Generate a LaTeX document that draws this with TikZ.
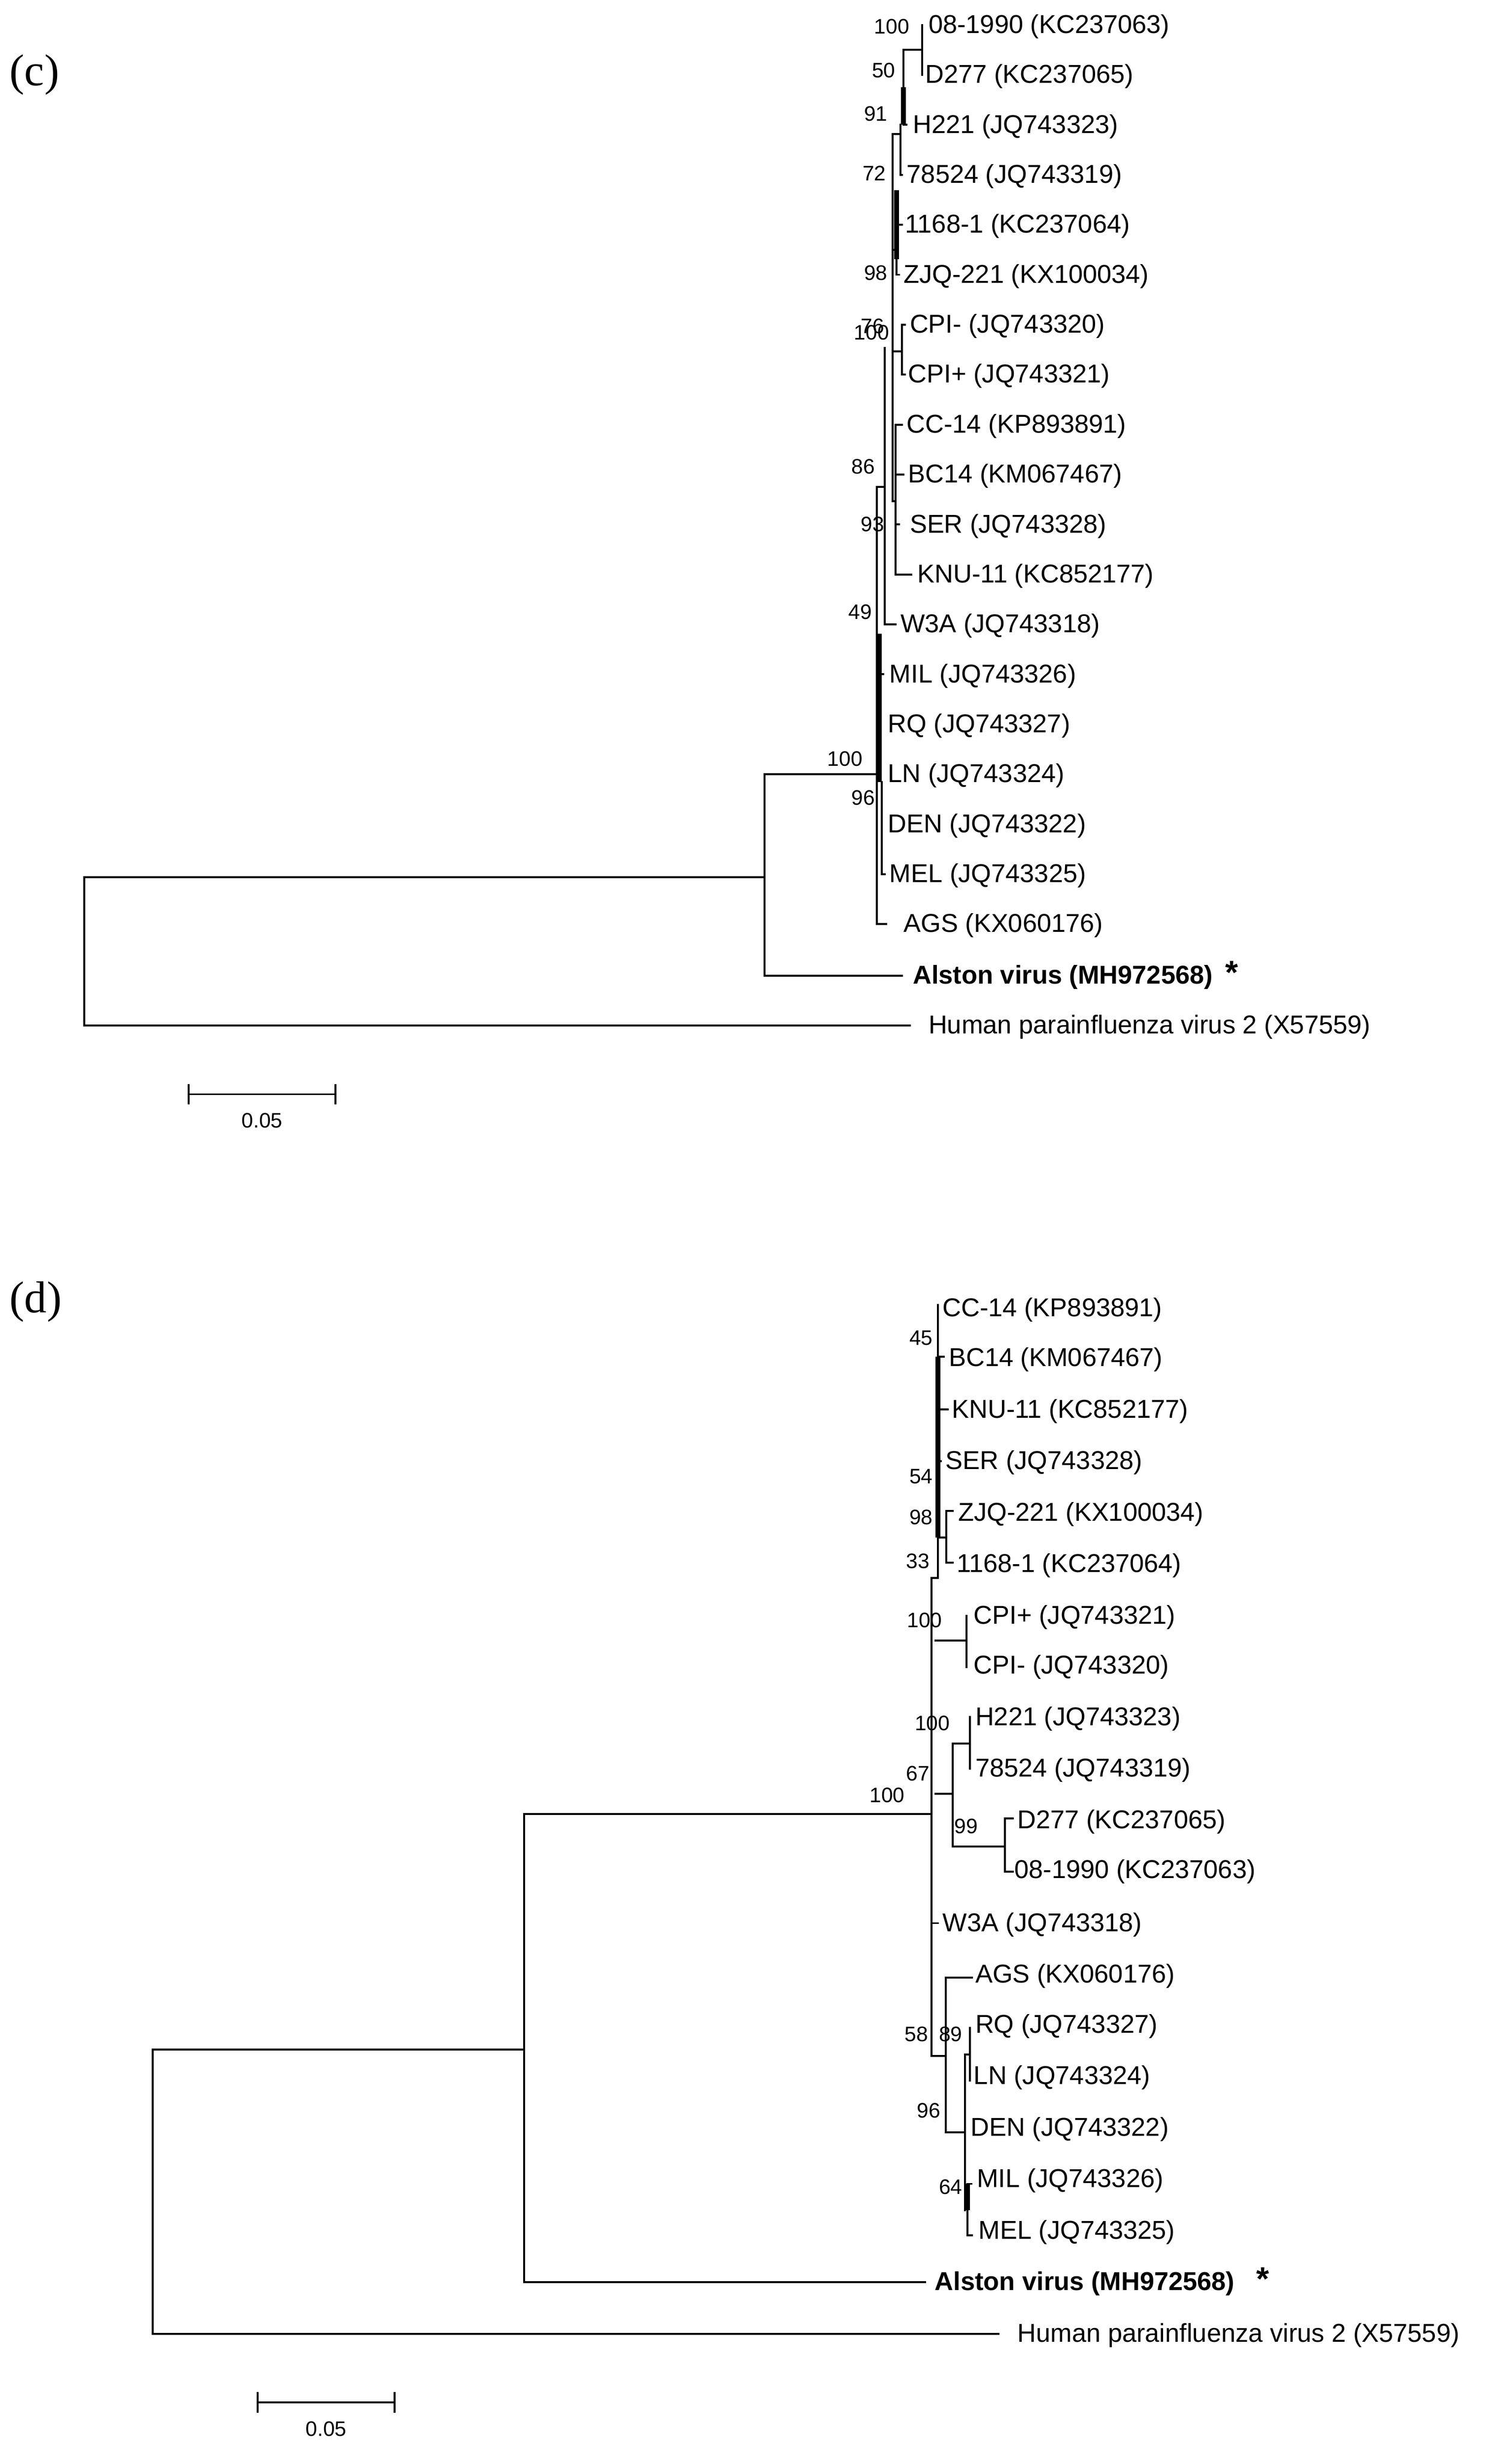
\documentclass[tikz,border=0pt]{standalone}
\usepackage{fontspec}
\setmainfont{Liberation Serif}
\setsansfont{Liberation Sans}
\begin{document}
\begin{tikzpicture}[x=0.8039pt,y=-0.8039pt,
  br/.style={line width=1pt,line cap=rect},
  thk/.style={line width=2.6pt},
  leaf/.style={anchor=west,inner sep=0pt,yshift=-0.8pt,xshift=1.5pt,font=\sffamily\fontsize{13.3}{15}\selectfont},
  bs/.style={anchor=east,inner sep=0pt,font=\sffamily\fontsize{10.8}{12}\selectfont},
  pl/.style={anchor=west,inner sep=0pt,font=\rmfamily\fontsize{23}{26}\selectfont}]
\useasboundingbox (0,0) rectangle (960,1578.5);
% ---------------- panel (c)
\node[pl] (pc) at (6,48) {(c)};
\foreach \n/\x/\y/\t in {c1/593/16/08-1990 (KC237063), c2/591/48/D277 (KC237065), c3/583/80/H221 (JQ743323),
  c4/579/112/78524 (JQ743319), c5/578/144/1168-1 (KC237064), c6/577/176/ZJQ-221 (KX100034),
  c7/581/208/CPI- (JQ743320), c8/580/240/CPI+ (JQ743321), c9/579/272/CC-14 (KP893891),
  c10/580/304/BC14 (KM067467), c11/581/336/SER (JQ743328), c12/586/368/KNU-11 (KC852177),
  c13/575/400/W3A (JQ743318), c14/568/432/MIL (JQ743326), c15/567/464/RQ (JQ743327),
  c16/567/496/LN (JQ743324), c17/567/528/DEN (JQ743322), c18/568/560/MEL (JQ743325),
  c19/577/592/AGS (KX060176), c21/593/657/Human parainfluenza virus 2 (X57559)}
  \node[leaf] (\n) at (\x,\y) {\t};
\node[leaf,font=\sffamily\bfseries\fontsize{13.3}{15}\selectfont] (c20) at (583,625) {Alston virus (MH972568)};
\node[anchor=west,inner sep=0pt,font=\sffamily\bfseries\fontsize{17}{17}\selectfont] (c20s) at (785,623) {*};
\draw[br] (54,562) -- (54,657) -- (583,657);
\draw[br] (54,562) -- (490,562);
\draw[br] (490,496) -- (490,625) -- (578,625);
\draw[br] (490,496) -- (562,496);
\draw[br] (562,312) -- (562,592) -- (568,592);
\draw[thk] (563.5,406) -- (563.5,501);
\draw[br] (563.5,432) -- (566,432);
\draw[br] (565,501) -- (565,560) -- (567,560);
\draw[br] (562,312) -- (567,312);
\draw[br] (567,223) -- (567,400) -- (574,400);
\draw[br] (572,86) -- (572,321) -- (574,321);
\draw[br] (574,272) -- (574,368) -- (584,368);
\draw[br] (574,272) -- (578,272); \draw[br] (574,304) -- (579,304); \draw[br] (574,336) -- (576,336);
\draw[br] (572,225) -- (578,225);
\draw[br] (578,208) -- (578,240) -- (580,240); \draw[br] (578,208) -- (580,208);
\draw[thk] (574.5,122) -- (574.5,166);
\draw[br] (574.5,166) -- (574.5,176) -- (576,176);
\draw[br] (572,160) -- (574.5,160); \draw[br] (574.5,144) -- (578,144);
\draw[br] (572,86) -- (577,86);
\draw[br] (577,80) -- (577,112) -- (578,112);
\draw[thk] (579,56) -- (579,80);
\draw[br] (579,32) -- (579,80) -- (581,80);
\draw[br] (579,32) -- (591,32);
\draw[br] (591,16) -- (591,48);
\node[bs] (cb1) at (583,17) {100}; \node[bs] (cb2) at (574,45) {50};
\node[bs] (cb3) at (569,73) {91}; \node[bs] (cb4) at (568,111) {72};
\node[bs] (cb5) at (569,175) {98}; \node[bs] (cb6) at (567,209) {76};
\node[bs] (cb7) at (570,213) {100}; \node[bs] (cb8) at (561,299) {86};
\node[bs] (cb9) at (567,336) {93}; \node[bs] (cb10) at (559,392) {49};
\node[bs] (cb11) at (553,486) {100}; \node[bs] (cb12) at (561,511) {96};
\draw[br] (121,695) -- (121,707); \draw[br] (215,695) -- (215,707); \draw[br] (121,701) -- (215,701);
\node[inner sep=0pt,font=\sffamily\fontsize{10.8}{12}\selectfont] (cs) at (168,718) {0.05};
% ---------------- panel (d)
\node[pl] (pd) at (6,834) {(d)};
\foreach \n/\x/\y/\t in {d1/602/838/CC-14 (KP893891), d2/606/870/BC14 (KM067467), d3/608/903/KNU-11 (KC852177),
  d4/604/936/SER (JQ743328), d5/612/969/ZJQ-221 (KX100034), d6/611/1002/1168-1 (KC237064),
  d7/622/1035/CPI+ (JQ743321), d8/622/1067/CPI- (JQ743320), d9/623/1100/H221 (JQ743323),
  d10/623/1133/78524 (JQ743319), d11/650/1166/D277 (KC237065), d12/648/1198/08-1990 (KC237063),
  d13/602/1232/W3A (JQ743318), d14/623/1265/AGS (KX060176), d15/623/1297/RQ (JQ743327),
  d16/622/1330/LN (JQ743324), d17/620/1363/DEN (JQ743322), d18/624/1396/MIL (JQ743326),
  d19/625/1429/MEL (JQ743325), d21/650/1495/Human parainfluenza virus 2 (X57559)}
  \node[leaf] (\n) at (\x,\y) {\t};
\node[leaf,font=\sffamily\bfseries\fontsize{13.3}{15}\selectfont] (d20) at (597,1462) {Alston virus (MH972568)};
\node[anchor=west,inner sep=0pt,font=\sffamily\bfseries\fontsize{17}{17}\selectfont] (d20s) at (805,1460) {*};
\draw[br] (98,1313) -- (98,1495) -- (640,1495);
\draw[br] (98,1313) -- (336,1313);
\draw[br] (336,1162) -- (336,1462) -- (593,1462);
\draw[br] (336,1162) -- (597,1162);
\draw[br] (597,1011) -- (597,1317) -- (606,1317);
\draw[br] (597,1232) -- (601,1232);
\draw[br] (597,1011) -- (601,1011);
\draw[br] (601,836) -- (601,1011);
\draw[thk] (601,869) -- (601,985);
\draw[br] (601,869) -- (605,869); \draw[br] (601,903) -- (607.5,903); \draw[br] (601,936) -- (603,936);
\draw[br] (601,985) -- (606.5,985);
\draw[br] (610.5,968) -- (606.5,968) -- (606.5,1001) -- (610.5,1001);
\draw[br] (599.5,1051) -- (619.5,1051); \draw[br] (619.5,1035) -- (619.5,1068);
\draw[br] (599.5,1149) -- (610.5,1149);
\draw[br] (610.5,1117) -- (610.5,1183);
\draw[br] (610.5,1117) -- (621.5,1117); \draw[br] (621.5,1100) -- (621.5,1133);
\draw[br] (610.5,1183) -- (644,1183);
\draw[br] (649,1165) -- (644,1165) -- (644,1199) -- (649,1199);
\draw[br] (606,1267) -- (606,1366) -- (618.5,1366);
\draw[br] (606,1267) -- (623,1267);
\draw[br] (618.5,1316) -- (618.5,1416);
\draw[br] (618.5,1316) -- (621.5,1316); \draw[br] (621.5,1299) -- (621.5,1333);
\draw[thk] (620,1399) -- (620,1416);
\draw[br] (620,1399) -- (622.5,1399);
\draw[br] (620,1399) -- (620,1432) -- (623,1432);
\node[bs] (db1) at (598,857) {45}; \node[bs] (db2) at (598,946) {54};
\node[bs] (db3) at (598,972) {98}; \node[bs] (db4) at (596,1000) {33};
\node[bs] (db5) at (604,1038) {100}; \node[bs] (db6) at (609,1104) {100};
\node[bs] (db7) at (596,1136) {67}; \node[bs] (db8) at (580,1150) {100};
\node[bs] (db9) at (627,1170) {99}; \node[bs] (db10) at (595,1303) {58};
\node[bs] (db11) at (617,1303) {89}; \node[bs] (db12) at (603,1352) {96};
\node[bs] (db13) at (617,1401) {64};
\draw[br] (165,1533) -- (165,1545); \draw[br] (253,1533) -- (253,1545); \draw[br] (165,1539) -- (253,1539);
\node[inner sep=0pt,font=\sffamily\fontsize{10.8}{12}\selectfont] (ds) at (209,1556) {0.05};
\end{tikzpicture}
\end{document}
